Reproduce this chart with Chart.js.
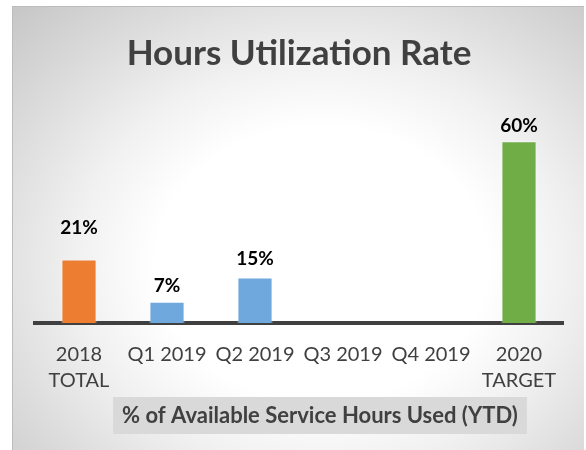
<!DOCTYPE html>
<html>
<head>
<meta charset="utf-8">
<script src="https://cdn.jsdelivr.net/npm/chart.js@4"></script>
<style>
  html, body { margin: 0; padding: 0; background: #fff; }
  #frame {
    position: absolute; left: 12px; top: 6px; width: 572px; height: 444px;
    box-sizing: border-box;
    border-left: 1px solid #bcbcbc; border-top: 1px solid #bcbcbc;
    background: radial-gradient(ellipse farthest-corner at 54% 58%, #ffffff 0%, #ffffff 38%, #f1f1f1 56%, #dddddd 76%, #c6c6c6 100%);
  }
  #myChart { position: absolute; left: 0; top: 0; }
</style>
</head>
<body>
<div id="frame"></div>
<canvas id="myChart" width="586" height="450"></canvas>
<script>
// categories and values (percent)
const categories = [["2018", "TOTAL"], "Q1 2019", "Q2 2019", "Q3 2019", "Q4 2019", ["2020", "TARGET"]];
const rates = [21, 7, 15, null, null, 60];
const chartTitle = "Hours Utilization Rate";
const axisTitle = "% of Available Service Hours Used (YTD)";

const barColors = ["#ed7d31", "#6fa8dc", "#6fa8dc", "#6fa8dc", "#6fa8dc", "#70ad47"];
// gap between bar top and its label baseline (labels were placed by hand)
const labelGap = [25, 10, 13, 10, 10, 9];

const textGray = "#404040";

// % labels above bars
const valueLabels = {
  id: "valueLabels",
  afterDatasetsDraw(chart) {
    const ctx = chart.ctx;
    const meta = chart.getDatasetMeta(0);
    ctx.save();
    ctx.font = "bold 19px Lato";
    ctx.fillStyle = "#000";
    ctx.textAlign = "center";
    ctx.textBaseline = "alphabetic";
    meta.data.forEach((bar, i) => {
      if (rates[i] == null) return;
      ctx.fillText(rates[i] + "%", bar.x, bar.y - labelGap[i]);
    });
    ctx.restore();
  },
};

// x axis title sitting on a grey box
const boxedAxisTitle = {
  id: "boxedAxisTitle",
  afterDraw(chart) {
    const ctx = chart.ctx;
    const area = chart.chartArea;
    const cx = (area.left + area.right) / 2 + 21;
    const cy = area.bottom + 92;
    ctx.save();
    ctx.font = "bold 22px Lato";
    const w = ctx.measureText(axisTitle).width + 18;
    ctx.fillStyle = "#d9d9d9";
    ctx.fillRect(cx - w / 2, cy - 18, w, 37);
    ctx.fillStyle = textGray;
    ctx.textAlign = "center";
    ctx.textBaseline = "middle";
    ctx.fillText(axisTitle, cx, cy + 1);
    ctx.restore();
  },
};

const canvasCtx = document.getElementById("myChart").getContext("2d");

const myChart = new Chart(canvasCtx, {
  type: "bar",
  data: {
    labels: categories,
    datasets: [
      {
        data: rates,
        backgroundColor: barColors,
        borderColor: "rgba(255,255,255,0.45)",
        borderWidth: 1,
        barPercentage: 0.4,
        categoryPercentage: 1,
      },
    ],
  },
  options: {
    responsive: false,
    animation: false,
    layout: { padding: { left: 35, right: 23, top: 0, bottom: 45 } },
    plugins: {
      legend: { display: false },
      tooltip: { enabled: false },
      title: {
        display: true,
        text: chartTitle,
        color: textGray,
        font: { family: "Lato", size: 35, weight: "bold", lineHeight: 1.2 },
        padding: { top: 33, bottom: 36 },
      },
    },
    scales: {
      x: {
        grid: { display: false },
        border: { display: true, color: textGray, width: 4 },
        ticks: {
          color: textGray,
          font: { family: "Lato", size: 20, lineHeight: 1.3 },
          padding: 11,
          maxRotation: 0,
          autoSkip: false,
        },
      },
      y: {
        display: false,
        min: 0,
        max: 70,
      },
    },
  },
  plugins: [valueLabels, boxedAxisTitle],
});
</script>
</body>
</html>
